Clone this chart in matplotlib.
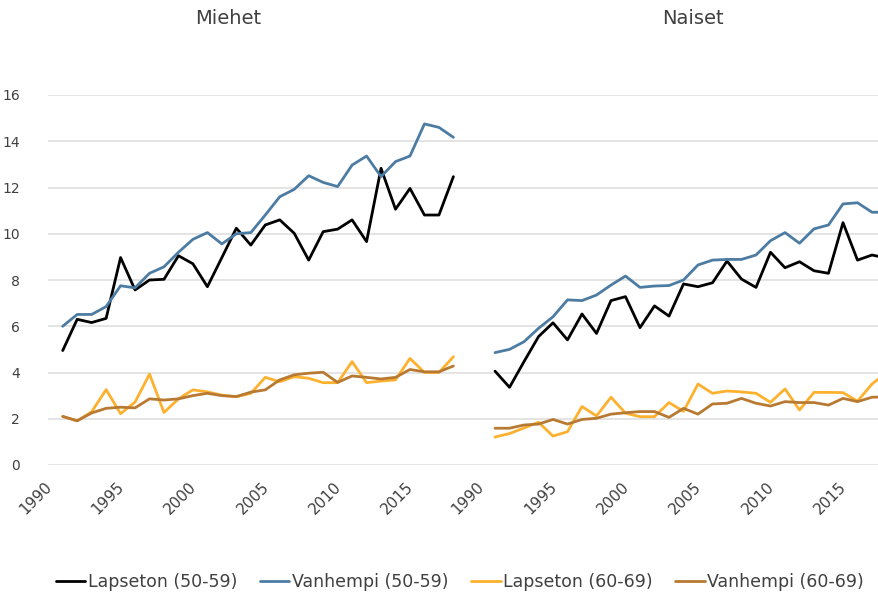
import matplotlib.pyplot as plt
from matplotlib.transforms import ScaledTranslation

# Vuodet ja sarjat (arvioitu kuvasta)
years = list(range(1990, 2018))
tick_years = [1990, 1995, 2000, 2005, 2010, 2015]
y_ticks = [0, 2, 4, 6, 8, 10, 12, 14, 16]

series_names = ['Lapseton (50-59)', 'Vanhempi (50-59)', 'Lapseton (60-69)', 'Vanhempi (60-69)']
colors = ['#000000', '#4d7ca3', '#fdb12e', '#b87a33']

# Miehet
m_lapseton_50 = [4.95, 6.3, 6.16, 6.34, 8.97, 7.57, 8.0, 8.03, 9.05, 8.7, 7.71, 8.97, 10.24,
                 9.51, 10.38, 10.6, 10.02, 8.86, 10.09, 10.2, 10.6, 9.66, 12.83, 11.06,
                 11.96, 10.81, 10.81, 12.47]
m_vanhempi_50 = [6.0, 6.51, 6.51, 6.85, 7.75, 7.66, 8.29, 8.57, 9.2, 9.76, 10.05, 9.56, 10.0,
                 10.05, 10.81, 11.6, 11.92, 12.51, 12.22, 12.04, 12.97, 13.36, 12.47, 13.12,
                 13.36, 14.75, 14.6, 14.17]
m_lapseton_60 = [2.1, 1.91, 2.3, 3.26, 2.22, 2.72, 3.93, 2.27, 2.86, 3.25, 3.16, 3.02, 2.95,
                 3.1, 3.79, 3.6, 3.82, 3.75, 3.56, 3.56, 4.47, 3.56, 3.63, 3.68, 4.61,
                 4.0, 4.0, 4.68]
m_vanhempi_60 = [2.1, 1.91, 2.25, 2.45, 2.5, 2.47, 2.86, 2.81, 2.86, 3.0, 3.1, 3.0, 2.96,
                 3.15, 3.25, 3.68, 3.9, 3.97, 4.01, 3.57, 3.85, 3.79, 3.72, 3.79, 4.13,
                 4.03, 4.03, 4.28]

# Naiset
n_lapseton_50 = [4.06, 3.36, 4.47, 5.55, 6.15, 5.41, 6.53, 5.69, 7.11, 7.28, 5.94, 6.88, 6.44,
                 7.83, 7.71, 7.88, 8.82, 8.04, 7.68, 9.2, 8.53, 8.79, 8.4, 8.29, 10.48,
                 8.86, 9.08, 8.95]
n_vanhempi_50 = [4.86, 5.0, 5.33, 5.91, 6.41, 7.14, 7.11, 7.35, 7.78, 8.17, 7.68, 7.74, 7.76,
                 8.0, 8.65, 8.86, 8.89, 8.89, 9.08, 9.7, 10.05, 9.59, 10.21, 10.38, 11.29,
                 11.34, 10.93, 10.93]
n_lapseton_60 = [1.21, 1.36, 1.6, 1.85, 1.25, 1.44, 2.53, 2.12, 2.93, 2.24, 2.09, 2.09, 2.7,
                 2.32, 3.5, 3.1, 3.2, 3.16, 3.1, 2.71, 3.29, 2.38, 3.14, 3.14, 3.13,
                 2.76, 3.5, 4.0]
n_vanhempi_60 = [1.59, 1.59, 1.73, 1.77, 1.97, 1.77, 1.97, 2.02, 2.2, 2.26, 2.31, 2.31, 2.06,
                 2.45, 2.2, 2.64, 2.67, 2.88, 2.67, 2.55, 2.74, 2.7, 2.7, 2.59, 2.88,
                 2.74, 2.93, 2.95]

miehet = [m_lapseton_50, m_vanhempi_50, m_lapseton_60, m_vanhempi_60]
naiset = [n_lapseton_50, n_vanhempi_50, n_lapseton_60, n_vanhempi_60]

plt.rcParams['font.family'] = ['DejaVu Sans']
text_color = '#404040'

fig = plt.figure(figsize=(8.79, 5.98), dpi=100)
W, H = 879, 598
ax1 = fig.add_axes([48 / W, 1 - 465 / H, 412 / W, 370 / H])
ax2 = fig.add_axes([460 / W, 1 - 465 / H, 419 / W, 370 / H])

for ax, data in [(ax1, miehet), (ax2, naiset)]:
    for vals, name, c in zip(data, series_names, colors):
        ax.plot(years, vals, color=c, lw=2.0, label=name, solid_capstyle='round')
    ax.set_ylim(0, 16)
    ax.set_yticks(y_ticks)
    ax.grid(axis='y', color='#dcdcdc', lw=1.1)
    ax.set_axisbelow(True)
    for s in ax.spines.values():
        s.set_visible(False)
    ax.set_xticks(tick_years)
    ax.set_xticklabels([str(y) for y in tick_years], rotation=45, ha='right',
                       fontsize=11, color=text_color)
    ax.tick_params(axis='both', length=0)
    ax.tick_params(axis='x', pad=10)

# x-rajat niin, että 1990 osuu samaan kohtaan kuin kuvassa
ax1.set_xlim(1990 - 14.7 / 14.47, 1990 - 14.7 / 14.47 + 412 / 14.47)
ax2.set_xlim(1990 - 35 / 14.5, 1990 - 35 / 14.5 + 419 / 14.5)

ax1.tick_params(axis='y', pad=20, labelsize=10, labelcolor=text_color)
ax2.tick_params(axis='y', labelleft=False)

shift = ScaledTranslation(-8 / 100, 0, fig.dpi_scale_trans)
for ax in (ax1, ax2):
    for lbl in ax.get_xticklabels():
        lbl.set_transform(lbl.get_transform() + shift)

fig.text(228 / W, 1 - 18 / H, 'Miehet', ha='center', va='center', fontsize=14, color=text_color)
fig.text(693 / W, 1 - 18 / H, 'Naiset', ha='center', va='center', fontsize=14, color=text_color)

handles, labels = ax1.get_legend_handles_labels()
fig.legend(handles, labels, loc='center', bbox_to_anchor=(460 / W, 1 - 582 / H), ncol=4,
           frameon=False, fontsize=12.5, handlelength=1.7, handletextpad=0.15,
           columnspacing=1.3, labelcolor=text_color)

fig.savefig('out.png', dpi=100)
